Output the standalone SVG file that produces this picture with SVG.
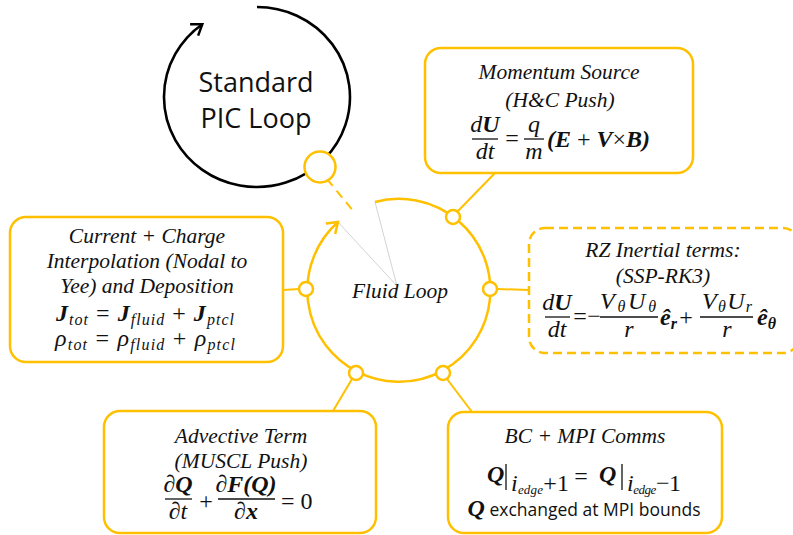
<svg xmlns="http://www.w3.org/2000/svg" width="793" height="535" viewBox="0 0 793 535">
<defs>
<style>
.box{fill:#fff;stroke:#FFC000;stroke-width:2.5}
.dash{stroke-dasharray:9 5}
.ring{fill:none;stroke:#FFC000;stroke-width:2.5}
.conn{fill:none;stroke:#FFC000;stroke-width:2}
.dot{fill:#fff;stroke:#FFC000;stroke-width:2.5}
.t{font-family:"Liberation Serif","DejaVu Serif",serif;font-style:italic;font-size:21.5px;fill:#111;text-anchor:middle}
.m{font-family:"Liberation Serif","DejaVu Serif",serif;font-style:italic;font-size:24px;fill:#111}
.c{text-anchor:middle}
.b{font-weight:bold}
.n{font-style:normal;font-weight:normal}
.s{font-size:16px}
.bar{stroke:#111;stroke-width:1.3}
.sans{font-family:"Open Sans","Liberation Sans",sans-serif;font-style:normal;font-weight:normal;fill:#111}
</style>
<marker id="arrK" viewBox="0 0 12 14" refX="11" refY="7" markerWidth="12" markerHeight="14" markerUnits="userSpaceOnUse" orient="auto" overflow="visible">
<path d="M1,0 L11,7 L1,14" fill="none" stroke="#000" stroke-width="2.5"/>
</marker>
<marker id="arrY" viewBox="0 0 12 14" refX="11" refY="7" markerWidth="12" markerHeight="14" markerUnits="userSpaceOnUse" orient="auto" overflow="visible">
<path d="M1,0 L11,7 L1,14" fill="none" stroke="#FFC000" stroke-width="2.5"/>
</marker>
</defs>
<rect width="793" height="535" fill="#fff"/>

<g id="pic-loop">
<path d="M257,7 A93,90 0 1 1 202.3,24.2" fill="none" stroke="#000" stroke-width="2.6" marker-end="url(#arrK)"/>
<text class="sans" x="256" y="92" font-size="27" text-anchor="middle">Standard</text>
<text class="sans" x="256" y="128" font-size="27" text-anchor="middle">PIC Loop</text>
</g>

<g id="connectors">
<line class="conn" x1="327" y1="179" x2="354" y2="212" stroke-width="2.5" stroke-dasharray="9 6"/>
<line class="conn" x1="458" y1="211" x2="495" y2="173"/>
<line class="conn" x1="299" y1="289" x2="283" y2="290"/>
<line class="conn" x1="497" y1="289" x2="529" y2="290"/>
<line class="conn" x1="352" y1="379" x2="333" y2="411"/>
<line class="conn" x1="447" y1="379" x2="472" y2="412"/>
</g>

<g id="fluid-loop">
<line x1="375" y1="202" x2="397" y2="286" stroke="#c8c8c8" stroke-width="0.8"/>
<line x1="338" y1="222" x2="397" y2="286" stroke="#c8c8c8" stroke-width="0.8"/>
<path class="ring" d="M375,202 A91.5,91.5 0 1 1 338,222" marker-end="url(#arrY)"/>
<text class="t" x="400" y="298">Fluid Loop</text>
<circle class="dot" cx="320" cy="167" r="15.5"/>
<circle class="dot" cx="453" cy="217" r="7"/>
<circle class="dot" cx="306" cy="289" r="7"/>
<circle class="dot" cx="490" cy="289" r="7"/>
<circle class="dot" cx="356" cy="373" r="7"/>
<circle class="dot" cx="443" cy="373" r="7"/>
</g>

<g id="momentum">
<rect class="box" x="425" y="48" width="268" height="125" rx="16"/>
<text class="t" x="559" y="79">Momentum Source</text>
<text class="t" x="560" y="107">(H&amp;C Push)</text>
<text class="m c" x="485" y="132">d<tspan class="b">U</tspan></text>
<line class="bar" x1="472" y1="139" x2="498" y2="139"/>
<text class="m c" x="485" y="159">dt</text>
<text class="m c n" x="512" y="146">=</text>
<text class="m c" x="534" y="132">q</text>
<line class="bar" x1="524" y1="139" x2="544" y2="139"/>
<text class="m c" x="534" y="159">m</text>
<text class="m" x="547" y="147"><tspan class="b">(E</tspan><tspan class="n"> + </tspan><tspan class="b">V</tspan><tspan class="n">×</tspan><tspan class="b">B)</tspan></text>
</g>

<g id="current">
<rect class="box" x="10" y="217" width="273" height="145" rx="16"/>
<text class="t" x="147" y="243">Current + Charge</text>
<text class="t" x="147" y="268">Interpolation (Nodal to</text>
<text class="t" x="147" y="293">Yee) and Deposition</text>
<text class="m c" x="145" y="321" textLength="178" lengthAdjust="spacing"><tspan class="b">J</tspan><tspan class="s" dy="4">tot</tspan><tspan class="n" dy="-4"> = </tspan><tspan class="b">J</tspan><tspan class="s" dy="4">fluid</tspan><tspan class="n" dy="-4"> + </tspan><tspan class="b">J</tspan><tspan class="s" dy="4">ptcl</tspan></text>
<text class="m c" x="145" y="346" textLength="180" lengthAdjust="spacing">ρ<tspan class="s" dy="4">tot</tspan><tspan class="n" dy="-4"> = </tspan>ρ<tspan class="s" dy="4">fluid</tspan><tspan class="n" dy="-4"> + </tspan>ρ<tspan class="s" dy="4">ptcl</tspan></text>
</g>

<g id="rz-inertial">
<rect class="box dash" x="529" y="228" width="270" height="125" rx="16"/>
<text class="t" x="663" y="257">RZ Inertial terms:</text>
<text class="t" x="663" y="283">(SSP-RK3)</text>
<text class="m c" x="557" y="310">d<tspan class="b">U</tspan></text>
<line class="bar" x1="545" y1="317" x2="570" y2="317"/>
<text class="m c" x="557" y="337">dt</text>
<text class="m c n" x="580" y="324">=</text>
<text class="m c n" x="594" y="324">−</text>
<text class="m c" x="628" y="309" textLength="56" lengthAdjust="spacing">V<tspan class="s" dy="3">θ</tspan><tspan dy="-3">U</tspan><tspan class="s" dy="3">θ</tspan></text>
<line class="bar" x1="600" y1="317" x2="658" y2="317"/>
<text class="m c" x="629" y="337">r</text>
<text class="m b" x="660" y="325">ê<tspan class="s" dy="4">r</tspan></text>
<text class="m c n" x="686" y="325">+</text>
<text class="m c" x="727" y="309" textLength="50" lengthAdjust="spacing">V<tspan class="s" dy="3">θ</tspan><tspan dy="-3">U</tspan><tspan class="s" dy="3">r</tspan></text>
<line class="bar" x1="700" y1="317" x2="753" y2="317"/>
<text class="m c" x="727" y="337">r</text>
<text class="m b" x="757" y="325">ê<tspan class="s" dy="4">θ</tspan></text>
</g>

<g id="advective">
<rect class="box" x="104" y="411" width="272" height="122" rx="16"/>
<text class="t" x="241" y="443">Advective Term</text>
<text class="t" x="241" y="468">(MUSCL Push)</text>
<text class="m c" x="178" y="492">∂<tspan class="b">Q</tspan></text>
<line class="bar" x1="165" y1="499" x2="192" y2="499"/>
<text class="m c" x="178" y="519">∂t</text>
<text class="m c n" x="206" y="509">+</text>
<text class="m c" x="246" y="492">∂<tspan class="b">F(Q)</tspan></text>
<line class="bar" x1="218" y1="499" x2="275" y2="499"/>
<text class="m c" x="246" y="519">∂<tspan class="b">x</tspan></text>
<text class="m n" x="281" y="509">= 0</text>
</g>

<g id="bc-mpi">
<rect class="box" x="448" y="412" width="274" height="121" rx="16"/>
<text class="t" x="585" y="443">BC + MPI Comms</text>
<text class="m b" x="487" y="482">Q</text>
<line class="bar" x1="506" y1="464" x2="506" y2="490"/>
<text class="m" x="511" y="491" font-size="15" textLength="58" lengthAdjust="spacing">i<tspan font-size="13" dy="3">edge</tspan><tspan class="n" dy="-3">+1</tspan></text>
<text class="m c n" x="581" y="484">=</text>
<text class="m b" x="599" y="482">Q</text>
<line class="bar" x1="622" y1="464" x2="622" y2="490"/>
<text class="m" x="627" y="491" font-size="15" textLength="54" lengthAdjust="spacing">i<tspan font-size="13" dy="3">edge</tspan><tspan class="n" dy="-3">−1</tspan></text>
<text class="m c" x="584" y="516" font-size="21"><tspan class="b">Q</tspan><tspan class="sans" font-size="17.5"> exchanged at MPI bounds</tspan></text>
</g>
</svg>
